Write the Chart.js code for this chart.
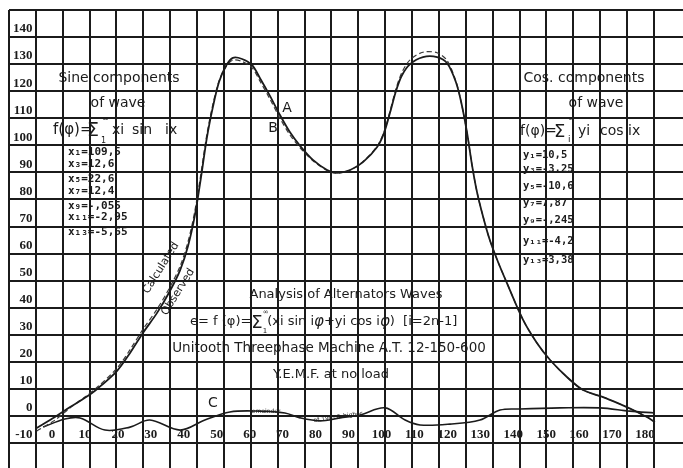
<!DOCTYPE html>
<html>
<head>
<meta charset="utf-8">
<title>Analysis of Alternators Waves</title>
<script src="https://cdn.jsdelivr.net/npm/chart.js@4.4.1/dist/chart.umd.min.js"></script>
<style>
  html, body { margin: 0; padding: 0; background: #fff; }
  #box { position: relative; width: 683px; height: 468px; }
</style>
</head>
<body>
<div id="box"><canvas id="waveChart"></canvas></div>
<script>
// electrical degrees and e.m.f. of the wave
const degrees = [-4.6, 0.9, 5.5, 10.0, 13.7, 19.7, 23.7, 27.6, 31.9, 35.8, 38.9, 41.3, 43.4, 45.2, 47.0,
  48.9, 50.7, 52.8, 54.9, 57.7, 60.7, 63.1, 66.2, 69.2, 72.2, 75.3, 79.2, 83.5, 86.5, 90.5, 94.4, 98.7,
  100.8, 102.6, 104.4, 106.2, 108.7, 112.6, 116.9, 119.9, 122.6, 124.2, 126.0, 127.5, 129.0, 130.8, 132.9,
  135.4, 138.1, 143.0, 147.2, 151.2, 156.3, 161.2, 167.9, 174.5, 177.6, 180.6, 183.0];
// curve A
const observed = [-4.4, -0.4, 3.3, 6.7, 10.0, 16.6, 23.3, 30.7, 38.1, 46.2, 53.9, 62.8, 74.3, 87.9, 102.7,
  114.5, 123.4, 129.3, 132.3, 131.9, 129.7, 124.9, 118.2, 111.2, 104.9, 99.8, 94.6, 90.9, 89.8, 90.9, 93.8, 99.4,
  104.6, 112.0, 120.0, 125.8, 130.0, 132.6, 132.6, 130.4, 123.4, 116.0, 104.6, 92.7, 82.8, 73.9, 65.0,
  56.9, 49.1, 35.5, 27.0, 20.7, 14.4, 9.6, 6.7, 3.3, 1.5, -0.4, -2.2];
// curve B
const calculated = [-5.5, -1.5, 3.0, 7.0, 10.6, 17.6, 24.5, 32.0, 39.5, 47.6, 55.4, 64.4, 76.0, 89.5, 104.0,
  115.5, 123.8, 129.0, 131.5, 131.0, 128.7, 123.8, 117.0, 110.0, 103.9, 99.1, 94.3, 90.7, 89.7, 90.9, 94.0, 99.7,
  105.0, 112.6, 120.8, 126.9, 131.6, 134.4, 134.2, 131.4, 123.7, 116.0, 104.6, 92.7, 82.8, 73.9, 65.0,
  56.9, 49.1, 35.5, 27.0, 20.7, 14.4, 9.6, 6.7, 3.3, 1.5, -0.4, -2.2];
// curve C, remainder
const remDegrees = [-2.7, 3.9, 8.5, 16.1, 23.7, 29.7, 38.9, 46.4, 54.0, 63.1, 70.7, 75.3, 81.4, 87.4, 93.5,
  101.1, 107.2, 111.7, 120.8, 129.9, 136.0, 142.0, 154.2, 166.3, 175.4, 183.0];
const remainder = [-4.1, -1.1, -0.7, -5.2, -4.1, -1.5, -5.2, -1.5, 1.5, 1.8, 1.1, -0.7, -1.8, -0.7, 0.4,
  3.0, -1.5, -3.3, -3.0, -1.5, 2.2, 2.6, 3.0, 3.0, 1.8, 1.1];

const xTicks = [0, 10, 20, 30, 40, 50, 60, 70, 80, 90, 100, 110, 120, 130, 140, 150, 160, 170, 180];
const yTicks = [-10, 0, 10, 20, 30, 40, 50, 60, 70, 80, 90, 100, 110, 120, 130, 140];
const sineComps = ['x₁=109,5', 'x₃=12,6', 'x₅=22,6', 'x₇=12,4', 'x₉=-,055', 'x₁₁=-2,95', 'x₁₃=-5,65'];
const cosComps = ['y₁=10,5', 'y₃=-3,25', 'y₅=-10,6', 'y₇=7,87', 'y₉=-,245', 'y₁₁=-4,2', 'y₁₃=3,38'];

const ink = '#1b1b1b';
const sans = '"DejaVu Sans", sans-serif';
const mono = '"DejaVu Sans Mono", monospace';
const toPoints = (xs, ys) => xs.map((x, i) => ({ x: x, y: ys[i] }));
const noPad = (scale) => { scale.paddingLeft = 0; scale.paddingRight = 0; scale.paddingTop = 0; scale.paddingBottom = 0; };

// lettering written on the plate
const paperNotes = {
  id: 'paperNotes',
  afterDatasetsDraw(chart) {
    const ctx = chart.ctx;
    ctx.save();
    ctx.fillStyle = ink;
    ctx.textBaseline = 'middle';
    const text = (t, x, y, font, align) => {
      ctx.font = font;
      ctx.textAlign = align || 'center';
      ctx.fillText(t, x, y);
    };
    const run = (parts, x, y) => {
      ctx.textAlign = 'left';
      parts.forEach(p => {
        ctx.font = p.f;
        ctx.fillText(p.t, x + (p.dx || 0), y + (p.dy || 0));
        if (!p.stay) x += ctx.measureText(p.t).width + (p.dx || 0);
      });
    };

    // sine block
    text('Sine components', 119, 78, '14px ' + sans);
    text('of wave', 118, 103, '14px ' + sans);
    text('f(φ)=', 53, 130, '15px ' + sans, 'left');
    text('Σ', 87, 131, '19px ' + sans, 'left');
    text('∞', 102, 119, '8px ' + sans, 'left');
    text('1', 101, 141, '8px ' + sans, 'left');
    text('xi', 112, 130, '14px ' + sans, 'left');
    text('sin', 132, 130, '14px ' + sans, 'left');
    text('ix', 165, 130, '14px ' + sans, 'left');
    const sineY = [152, 164, 179, 191, 206, 217, 232];
    sineComps.forEach((s, i) => text(s, 68, sineY[i], 'bold 11px ' + mono, 'left'));

    // cosine block
    text('Cos. components', 584, 78, '14px ' + sans);
    text('of wave', 596, 103, '14px ' + sans);
    text('f(φ)=', 520, 131, '14px ' + sans, 'left');
    text('Σ', 554, 132, '18px ' + sans, 'left');
    text('∞', 568, 119, '8px ' + sans, 'left');
    text('i', 568, 140, '9px ' + sans, 'left');
    text('yi', 578, 131, '14px ' + sans, 'left');
    text('cos ix', 600, 131, '14px ' + sans, 'left');
    const cosY = [155, 169, 186, 203, 220, 241, 260];
    cosComps.forEach((s, i) => text(s, 523, cosY[i], 'bold 10.5px ' + mono, 'left'));

    // title block
    text('Analysis of Alternators Waves', 346, 295, '13px ' + sans);
    run([
      { t: 'e= f (φ)=', f: '13px ' + sans },
      { t: 'Σ', f: '18px ' + sans, dy: 1 },
      { t: '∞', f: '7px ' + sans, dy: -10, stay: true },
      { t: '1', f: '7px ' + sans, dy: 9, dx: 0 },
      { t: '(xi sin i', f: '13px ' + sans },
      { t: 'φ', f: 'italic 15px ' + sans },
      { t: '+yi cos i', f: '13px ' + sans },
      { t: 'φ', f: 'italic 15px ' + sans },
      { t: ')  [i=2n-1]', f: '13px ' + sans }
    ], 190, 322);
    text('Unitooth Threephase Machine A.T. 12-150-600', 329, 348, '13.5px ' + sans);
    text('Y.E.M.F. at no load', 331, 375, '13px ' + sans);

    // curve letters
    text('A', 287, 108, '14px ' + sans);
    text('B', 273, 128, '14px ' + sans);
    text('C', 213, 403, '14px ' + sans);

    // labels along the rising flank
    [['Calculated', 161, 268], ['Observed', 178, 292]].forEach(([t, x, y]) => {
      ctx.save();
      ctx.translate(x, y);
      ctx.rotate(-58 * Math.PI / 180);
      text(t, 0, 0, '11px ' + sans);
      ctx.restore();
    });
    text('remainder', 265, 411, '6px ' + sans);
    ctx.save();
    ctx.translate(338, 417);
    ctx.rotate(-8 * Math.PI / 180);
    text('of 19th & higher', 0, 0, '6px ' + sans);
    ctx.restore();
    ctx.restore();
  }
};

new Chart(document.getElementById('waveChart'), {
  type: 'line',
  data: {
    datasets: [
      {
        label: 'Observed',
        data: toPoints(degrees, observed),
        borderColor: ink, borderWidth: 1.8,
        pointRadius: 0, tension: 0.3,
        xAxisID: 'deg', yAxisID: 'y'
      },
      {
        label: 'Calculated',
        data: toPoints(degrees, calculated),
        borderColor: '#3a3a3a', borderWidth: 1.2, borderDash: [5, 3],
        pointRadius: 0, tension: 0.3,
        xAxisID: 'deg', yAxisID: 'y'
      },
      {
        label: 'Remainder',
        data: toPoints(remDegrees, remainder),
        borderColor: ink, borderWidth: 1.6,
        pointRadius: 0, tension: 0.35,
        xAxisID: 'deg', yAxisID: 'y'
      }
    ]
  },
  options: {
    responsive: true,
    maintainAspectRatio: false,
    animation: false,
    layout: { padding: { left: 9, top: 10, right: 0, bottom: 0 } },
    plugins: { legend: { display: false }, tooltip: { enabled: false } },
    scales: {
      // squares of the ruled paper
      col: {
        axis: 'x', type: 'linear', position: 'top',
        min: 0, max: 25.08,
        afterBuildTicks: (s) => { s.ticks = Array.from({ length: 25 }, (_, i) => ({ value: i })); },
        afterFit: noPad,
        ticks: { display: false },
        border: { display: false },
        grid: { color: ink, lineWidth: 2, drawTicks: false }
      },
      deg: {
        axis: 'x', type: 'linear', position: { y: 0 },
        min: -13.05, max: 191.54,
        afterBuildTicks: (s) => { s.ticks = xTicks.map(v => ({ value: v })); },
        afterFit: noPad,
        grid: { display: false, drawTicks: false },
        border: { display: false },
        ticks: {
          autoSkip: false, maxRotation: 0, padding: 11, color: ink,
          font: { family: '"Liberation Serif", serif', size: 13, weight: 'bold' }
        }
      },
      y: {
        type: 'linear', position: 'left',
        min: -19.21, max: 150,
        afterBuildTicks: (s) => { s.ticks = yTicks.concat([150]).map(v => ({ value: v })); },
        afterFit: (s) => { s.width = 0; noPad(s); },
        border: { display: false },
        grid: { color: ink, lineWidth: 2, drawTicks: false },
        ticks: {
          mirror: true, crossAlign: 'far', padding: 4, labelOffset: -8, color: ink,
          font: { family: '"Liberation Serif", serif', size: 13, weight: 'bold' },
          callback: (v) => (v === 150 ? '' : String(v))
        }
      }
    }
  },
  plugins: [paperNotes]
});
</script>
</body>
</html>
